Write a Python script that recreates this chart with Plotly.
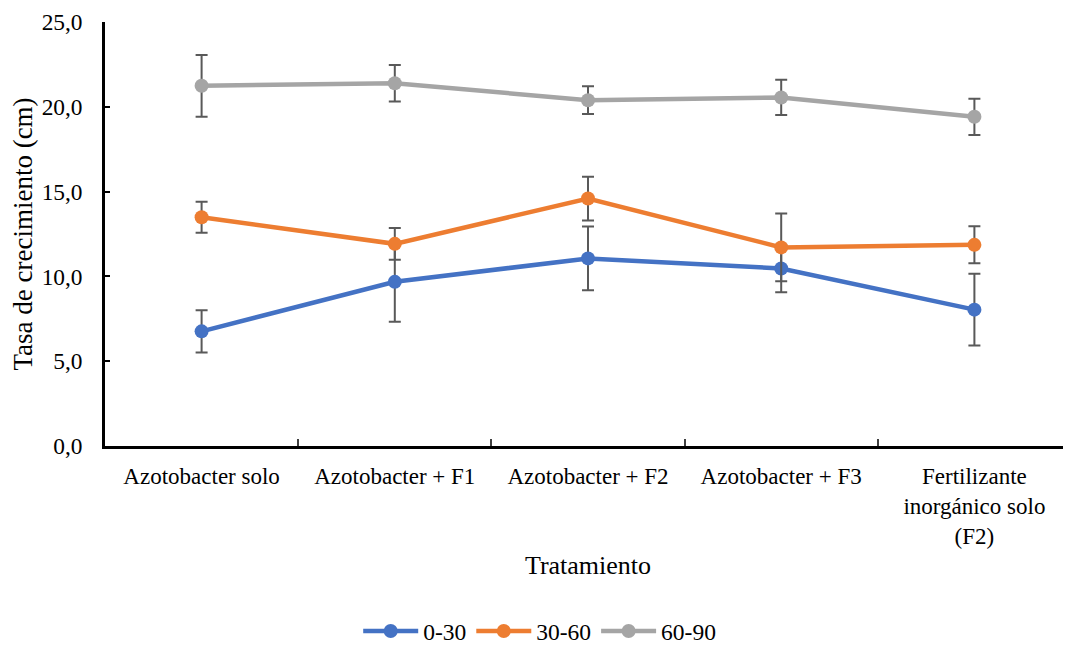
import plotly.graph_objects as go

categories = ["Azotobacter solo", "Azotobacter + F1", "Azotobacter + F2", "Azotobacter + F3",
              "Fertilizante<br>inorgánico solo<br>(F2)"]
series_names = ["0-30", "30-60", "60-90"]
vals_0_30 = [6.76, 9.68, 11.06, 10.47, 8.04]
err_0_30 = [1.25, 2.35, 1.88, 1.40, 2.11]
vals_30_60 = [13.49, 11.92, 14.59, 11.71, 11.86]
err_30_60 = [0.91, 0.94, 1.29, 2.00, 1.09]
vals_60_90 = [21.24, 21.39, 20.39, 20.55, 19.41]
err_60_90 = [1.82, 1.08, 0.82, 1.04, 1.07]
colors = ["#4472C4", "#ED7D31", "#A5A5A5"]

FONT = "Liberation Serif"

fig = go.Figure()
for name, vals, errs, col in zip(series_names, [vals_0_30, vals_30_60, vals_60_90],
                                 [err_0_30, err_30_60, err_60_90], colors):
    fig.add_trace(go.Scatter(
        x=categories, y=vals, name=name, mode="lines+markers",
        line=dict(color=col, width=4.5),
        marker=dict(color=col, size=14),
        error_y=dict(type="data", array=errs, visible=True, color="#595959",
                     thickness=2, width=6),
    ))

fig.update_layout(
    width=1063, height=637,
    margin=dict(l=97, r=0, t=14, b=198.5, autoexpand=False),
    paper_bgcolor="white", plot_bgcolor="white",
    separators=",.",
    font=dict(family=FONT, size=23, color="#000000"),
    showlegend=True,
    legend=dict(orientation="h", x=0.45, xanchor="center", y=-0.437, yanchor="middle",
                font=dict(family=FONT, size=23.5), itemwidth=55, traceorder="normal"),
)
fig.update_xaxes(
    type="category", showline=True, linecolor="black", linewidth=2.5,
    ticks="inside", ticklen=7, tickwidth=1.5, tickcolor="#404040",
    tickson="boundaries", showgrid=False, zeroline=False, automargin=False,
    range=[-0.5, 4.5], ticklabelstandoff=8,
    tickfont=dict(family=FONT, size=23),
    title=dict(text="Tratamiento", font=dict(family=FONT, size=26), standoff=8),
)
fig.update_yaxes(
    range=[0, 25], dtick=5, tickformat=".1f", showline=True, linecolor="black",
    linewidth=2.5, ticks="inside", ticklen=5, tickwidth=1.5, tickcolor="black",
    showgrid=False, zeroline=False, ticklabelstandoff=15, automargin=False,
    tickfont=dict(family=FONT, size=23.4),
    title=dict(text="Tasa de crecimiento (cm)", font=dict(family=FONT, size=27), standoff=6),
)

fig.write_html("out.html")
